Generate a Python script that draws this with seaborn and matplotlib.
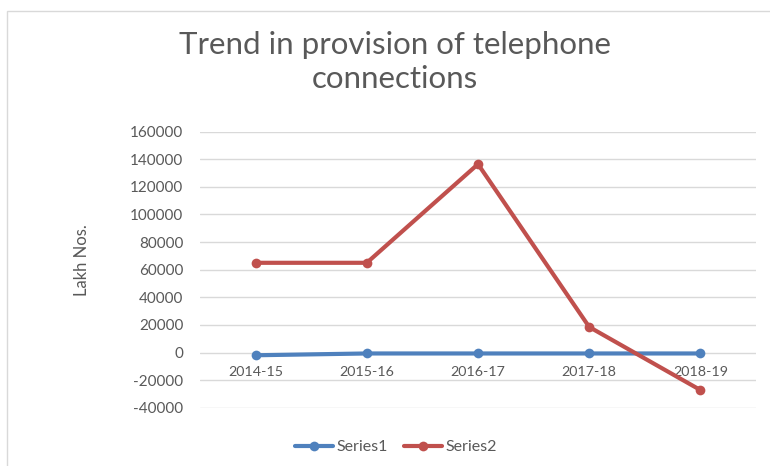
import matplotlib
matplotlib.use("Agg")
import matplotlib.pyplot as plt
from matplotlib.patches import Rectangle
from matplotlib.lines import Line2D
import seaborn as sns
import pandas as pd

categories = ["2014-15", "2015-16", "2016-17", "2017-18", "2018-19"]
series1 = [-2000, -700, -700, -700, -700]
series2 = [65000, 65000, 136500, 18500, -27200]
series_names = ["Series1", "Series2"]
y_ticks = [-40000, -20000, 0, 20000, 40000, 60000, 80000, 100000, 120000, 140000, 160000]
title = "Trend in provision of telephone\nconnections"
y_label = "Lakh Nos."

df = pd.DataFrame({
    "year": categories * 2,
    "value": series1 + series2,
    "series": [series_names[0]] * len(categories) + [series_names[1]] * len(categories),
})

sns.set_theme(style="white")
plt.rcParams["font.family"] = ["Lato", "DejaVu Sans"]
text_color = "#595959"

fig = plt.figure(figsize=(7.7, 4.66), dpi=100)
ax = fig.add_axes([200 / 770, 1 - 407.7 / 466, 556 / 770, 276 / 466])

palette = {"Series1": "#4F81BD", "Series2": "#C0504D"}
sns.lineplot(data=df, x="year", y="value", hue="series", palette=palette,
             marker="o", markersize=7, markeredgewidth=0, linewidth=3,
             sort=False, ax=ax, legend=False)

ax.set_xlim(-0.5, len(categories) - 0.5)
ax.set_ylim(-40000, 160000)
ax.set_yticks(y_ticks)
ax.set_yticklabels([str(v) for v in y_ticks])
ax.yaxis.grid(True, color="#D9D9D9", linewidth=1)
ax.xaxis.grid(False)
ax.set_axisbelow(True)
for s in ["top", "right", "left"]:
    ax.spines[s].set_visible(False)
ax.spines["bottom"].set_position(("data", 0))
ax.spines["bottom"].set_visible(False)
ax.tick_params(axis="x", length=0, pad=10, labelsize=10.3, labelcolor=text_color)
ax.tick_params(axis="y", length=0, pad=12, labelsize=11, labelcolor=text_color)
ax.set_xlabel("")
ax.set_ylabel(y_label, fontsize=12, color=text_color)
ax.yaxis.set_label_coords(-0.197, 0.535)

fig.text(395 / 770, 1 - 62 / 466, title, ha="center", va="center",
         fontsize=22.5, color=text_color, linespacing=1.3)

handles = [Line2D([0], [0], color=palette[n], lw=3, marker="o", markersize=7,
                  markeredgewidth=0) for n in series_names]
fig.legend(handles, series_names, loc="center", ncol=2, frameon=False,
           bbox_to_anchor=(396 / 770, 1 - 447 / 466), fontsize=11.5,
           handlelength=2.4, handletextpad=0.2, columnspacing=1.0,
           labelcolor=text_color)

fig.patches.append(Rectangle((7 / 770, -0.1), 1.0, 1 - 11 / 466 + 0.1,
                             transform=fig.transFigure, fill=False,
                             edgecolor="#D9D9D9", linewidth=1))

fig.savefig("out.png", dpi=100)
